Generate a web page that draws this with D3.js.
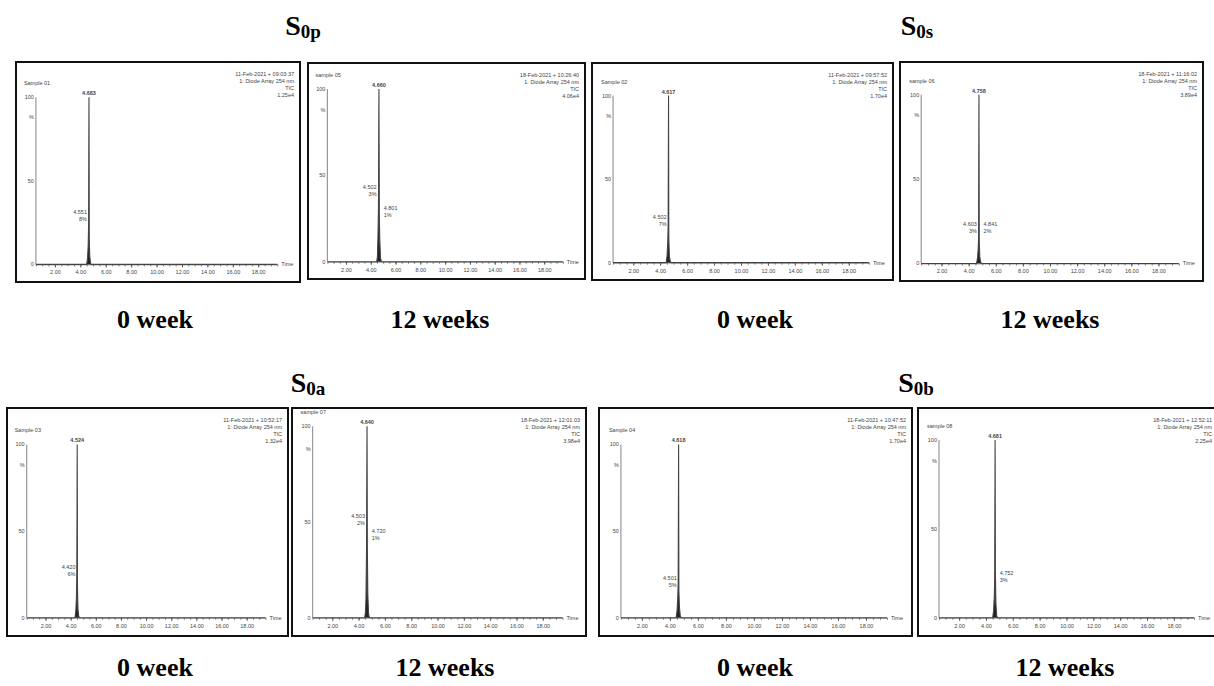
<!DOCTYPE html>
<html>
<head>
<meta charset="utf-8">
<title>HPLC chromatograms</title>
<script src="https://d3js.org/d3.v7.min.js"></script>
<style>
    body { margin: 0; background: #fff; }
    svg { display: block; }
    .tiny { font-family: "Liberation Sans", Arial, sans-serif; font-size: 5.5px; fill: #444; }
    .caption { font-family: "Liberation Serif", "Times New Roman", serif; font-weight: bold; fill: #000; }
</style>
</head>
<body>
<svg width="1214" height="686"></svg>
<script>
    // samples and storage time
    var sampleNames = ["S0p", "S0s", "S0a", "S0b"];
    var weekNames = ["0 week", "12 weeks"];

    // time axis (min)
    var timeDomain = [0.5, 19.5];
    var timeTicks = [2, 4, 6, 8, 10, 12, 14, 16, 18];
    var timeTickLabels = ["2.00", "4.00", "6.00", "8.00", "10.00", "12.00", "14.00", "16.00", "18.00"];

    // main peak retention times, panel order: S0p 0w, S0p 12w, S0s 0w, S0s 12w, S0a 0w, S0a 12w, S0b 0w, S0b 12w
    var apexTimes = [4.68, 4.66, 4.62, 4.76, 4.52, 4.64, 4.62, 4.68];
    var apexLabels = ["4.683", "4.660", "4.617", "4.758", "4.524", "4.640", "4.618", "4.681"];

    // traces [time, % intensity]
    var traceS0p0 = [[0.5,0],[4.5,0],[4.57,4],[4.62,12],[4.65,24],[4.68,100],[4.7,16],[4.74,5],[4.8,1],[4.86,0],[19.5,0]];
    var traceS0p12 = [[0.5,0],[4.48,0],[4.54,3],[4.58,14],[4.62,30],[4.66,100],[4.69,28],[4.73,12],[4.79,2],[4.86,0],[19.5,0]];
    var traceS0s0 = [[0.5,0],[4.44,0],[4.51,4],[4.56,12],[4.59,22],[4.62,100],[4.64,15],[4.68,4],[4.74,1],[4.8,0],[19.5,0]];
    var traceS0s12 = [[0.5,0],[4.58,0],[4.65,3],[4.7,8],[4.73,14],[4.76,100],[4.78,14],[4.82,4],[4.88,1],[4.94,0],[19.5,0]];
    var traceS0a0 = [[0.5,0],[4.34,0],[4.41,4],[4.46,12],[4.49,26],[4.52,100],[4.54,18],[4.58,5],[4.64,1],[4.7,0],[19.5,0]];
    var traceS0a12 = [[0.5,0],[4.46,0],[4.52,3],[4.56,10],[4.6,34],[4.64,100],[4.66,40],[4.7,12],[4.76,2],[4.82,0],[19.5,0]];
    var traceS0b0 = [[0.5,0],[4.44,0],[4.51,4],[4.56,12],[4.59,20],[4.62,100],[4.64,16],[4.68,6],[4.74,1],[4.8,0],[19.5,0]];
    var traceS0b12 = [[0.5,0],[4.5,0],[4.57,4],[4.62,12],[4.65,22],[4.68,100],[4.7,26],[4.74,8],[4.8,1],[4.86,0],[19.5,0]];
    var traces = [traceS0p0, traceS0p12, traceS0s0, traceS0s12, traceS0a0, traceS0a12, traceS0b0, traceS0b12];

    // small labelled peaks [time, %, label line 1, label line 2, side]
    var minorPeaks = [
        [[4.6, 30, "4.551", "8%", -1]],
        [[4.55, 42, "4.502", "3%", -1], [4.72, 30, "4.801", "1%", 1]],
        [[4.55, 26, "4.502", "7%", -1]],
        [[4.68, 22, "4.603", "3%", -1], [4.8, 22, "4.841", "2%", 1]],
        [[4.46, 28, "4.420", "6%", -1]],
        [[4.56, 52, "4.503", "2%", -1], [4.7, 44, "4.720", "1%", 1]],
        [[4.56, 22, "4.501", "5%", -1]],
        [[4.72, 24, "4.752", "3%", 1]]
    ];

    // header texts top right
    var headerLines = [
        ["11-Feb-2021 + 09:03:37", "1: Diode Array 254 nm", "TIC", "1.25e4"],
        ["18-Feb-2021 + 10:26:40", "1: Diode Array 254 nm", "TIC", "4.06e4"],
        ["11-Feb-2021 + 09:57:52", "1: Diode Array 254 nm", "TIC", "1.70e4"],
        ["18-Feb-2021 + 11:16:02", "1: Diode Array 254 nm", "TIC", "3.89e4"],
        ["11-Feb-2021 + 10:52:17", "1: Diode Array 254 nm", "TIC", "1.32e4"],
        ["18-Feb-2021 + 12:01:03", "1: Diode Array 254 nm", "TIC", "3.98e4"],
        ["11-Feb-2021 + 10:47:52", "1: Diode Array 254 nm", "TIC", "1.70e4"],
        ["18-Feb-2021 + 12:52:11", "1: Diode Array 254 nm", "TIC", "2.25e4"]
    ];
    var sampleIds = ["Sample 01", "sample 05", "Sample 02", "sample 06", "Sample 03", "sample 07", "Sample 04", "sample 08"];

    // layout
    var boxes = [
        {x: 16, y: 62, w: 284, h: 220}, {x: 308, y: 63, w: 277, h: 216},
        {x: 592, y: 63, w: 301, h: 217}, {x: 900, y: 62, w: 303, h: 219},
        {x: 7, y: 408, w: 281, h: 228}, {x: 292, y: 408, w: 294, h: 228},
        {x: 599, y: 408, w: 313, h: 228}, {x: 918, y: 408, w: 300, h: 228}
    ];
    var topFrac = [0.16, 0.12, 0.15, 0.15, 0.16, 0.08, 0.16, 0.14];

    var svg = d3.select("svg");

    function drawPanel(i) {
        var b = boxes[i];
        var g = svg.append("g").attr("transform", "translate(" + b.x + "," + b.y + ")");

        g.append("rect")
            .attr("width", b.w).attr("height", b.h)
            .attr("fill", "#fff").attr("stroke", "#111").attr("stroke-width", 2);

        var x0 = b.w * 0.07, x1 = b.w * 0.92,
            y0 = b.h * 0.92, y1 = b.h * topFrac[i];

        var x = d3.scaleLinear().domain(timeDomain).range([x0, x1]);
        var y = d3.scaleLinear().domain([0, 100]).range([y0, y1]);

        // minor ticks (dashed look)
        g.append("g")
            .attr("transform", "translate(0," + y0 + ")")
            .call(d3.axisBottom(x).ticks(60).tickFormat("").tickSize(2).tickSizeOuter(0))
            .call(function(a) {
                a.select(".domain").attr("stroke", "#999");
                a.selectAll("line").attr("stroke", "#777");
            });

        g.append("g")
            .attr("transform", "translate(0," + y0 + ")")
            .call(d3.axisBottom(x).tickValues(timeTicks)
                .tickFormat(function(d, k) { return timeTickLabels[k]; })
                .tickSize(3).tickSizeOuter(0).tickPadding(3))
            .call(function(a) {
                a.select(".domain").remove();
                a.selectAll("line").attr("stroke", "#555");
                a.selectAll("text").attr("class", "tiny").attr("font-size", null).attr("font-family", null);
            });

        g.append("text").attr("class", "tiny")
            .attr("x", x1 + 4).attr("y", y0 + 2)
            .text("Time");

        // y axis
        g.append("line")
            .attr("x1", x0).attr("x2", x0)
            .attr("y1", y0).attr("y2", y(100))
            .attr("stroke", "#999").attr("stroke-width", 1.2);

        g.append("text").attr("class", "tiny")
            .attr("x", x0 - 12).attr("y", y(100) - 12)
            .text(sampleIds[i]);
        g.append("text").attr("class", "tiny").attr("text-anchor", "end")
            .attr("x", x0 - 2).attr("y", y(100) + 2).text("100");
        g.append("text").attr("class", "tiny").attr("text-anchor", "end")
            .attr("x", x0 - 2).attr("y", y(88) + 2).text("%");
        g.append("text").attr("class", "tiny").attr("text-anchor", "end")
            .attr("x", x0 - 2).attr("y", y(50) + 2).text("50");
        g.append("text").attr("class", "tiny").attr("text-anchor", "end")
            .attr("x", x0 - 2).attr("y", y(0) + 2).text("0");

        // header
        g.selectAll(".hdr")
            .data(headerLines[i])
            .enter().append("text")
            .attr("class", "tiny hdr")
            .attr("text-anchor", "end")
            .attr("x", b.w - 6)
            .attr("y", function(d, k) { return 14 + k * 7; })
            .text(function(d) { return d; });

        // trace
        var area = d3.area()
            .x(function(d) { return x(d[0]); })
            .y0(y(0))
            .y1(function(d) { return y(d[1]); });
        var line = d3.line()
            .x(function(d) { return x(d[0]); })
            .y(function(d) { return y(d[1]); });

        g.append("path")
            .datum(traces[i])
            .attr("d", area)
            .attr("fill", "#222");
        g.append("path")
            .datum(traces[i])
            .attr("d", line)
            .attr("fill", "none")
            .attr("stroke", "#444")
            .attr("stroke-width", 1.1);

        // apex label
        g.append("text").attr("class", "tiny")
            .attr("text-anchor", "middle")
            .attr("font-weight", "bold")
            .attr("x", x(apexTimes[i]))
            .attr("y", y(100) - 2)
            .text(apexLabels[i]);

        // minor peak labels
        minorPeaks[i].forEach(function(p) {
            var tx = x(p[0]) + (p[4] < 0 ? -1 : 4);
            var anchor = p[4] < 0 ? "end" : "start";
            g.append("text").attr("class", "tiny").attr("text-anchor", anchor)
                .attr("x", tx).attr("y", y(p[1])).text(p[2]);
            g.append("text").attr("class", "tiny").attr("text-anchor", anchor)
                .attr("x", tx).attr("y", y(p[1]) + 7).text(p[3]);
        });
    }

    for (var i = 0; i < boxes.length; i++) drawPanel(i);

    // sample titles
    var titlePos = [[303, 35], [917, 35], [308, 392], [916, 392]];
    sampleNames.forEach(function(name, k) {
        var t = svg.append("text")
            .attr("class", "caption")
            .attr("x", titlePos[k][0]).attr("y", titlePos[k][1])
            .attr("text-anchor", "middle")
            .attr("font-size", "28px");
        t.append("tspan").text(name.charAt(0));
        t.append("tspan").attr("font-size", "19px").attr("dy", 3).text(name.slice(1));
    });

    // week captions
    var captionX = [[155, 440, 755, 1050], [155, 445, 755, 1065]];
    var captionY = [328, 676];
    captionX.forEach(function(row, r) {
        row.forEach(function(cx, k) {
            svg.append("text")
                .attr("class", "caption")
                .attr("x", cx).attr("y", captionY[r])
                .attr("text-anchor", "middle")
                .attr("font-size", "26px")
                .text(weekNames[k % 2]);
        });
    });
</script>
</body>
</html>
